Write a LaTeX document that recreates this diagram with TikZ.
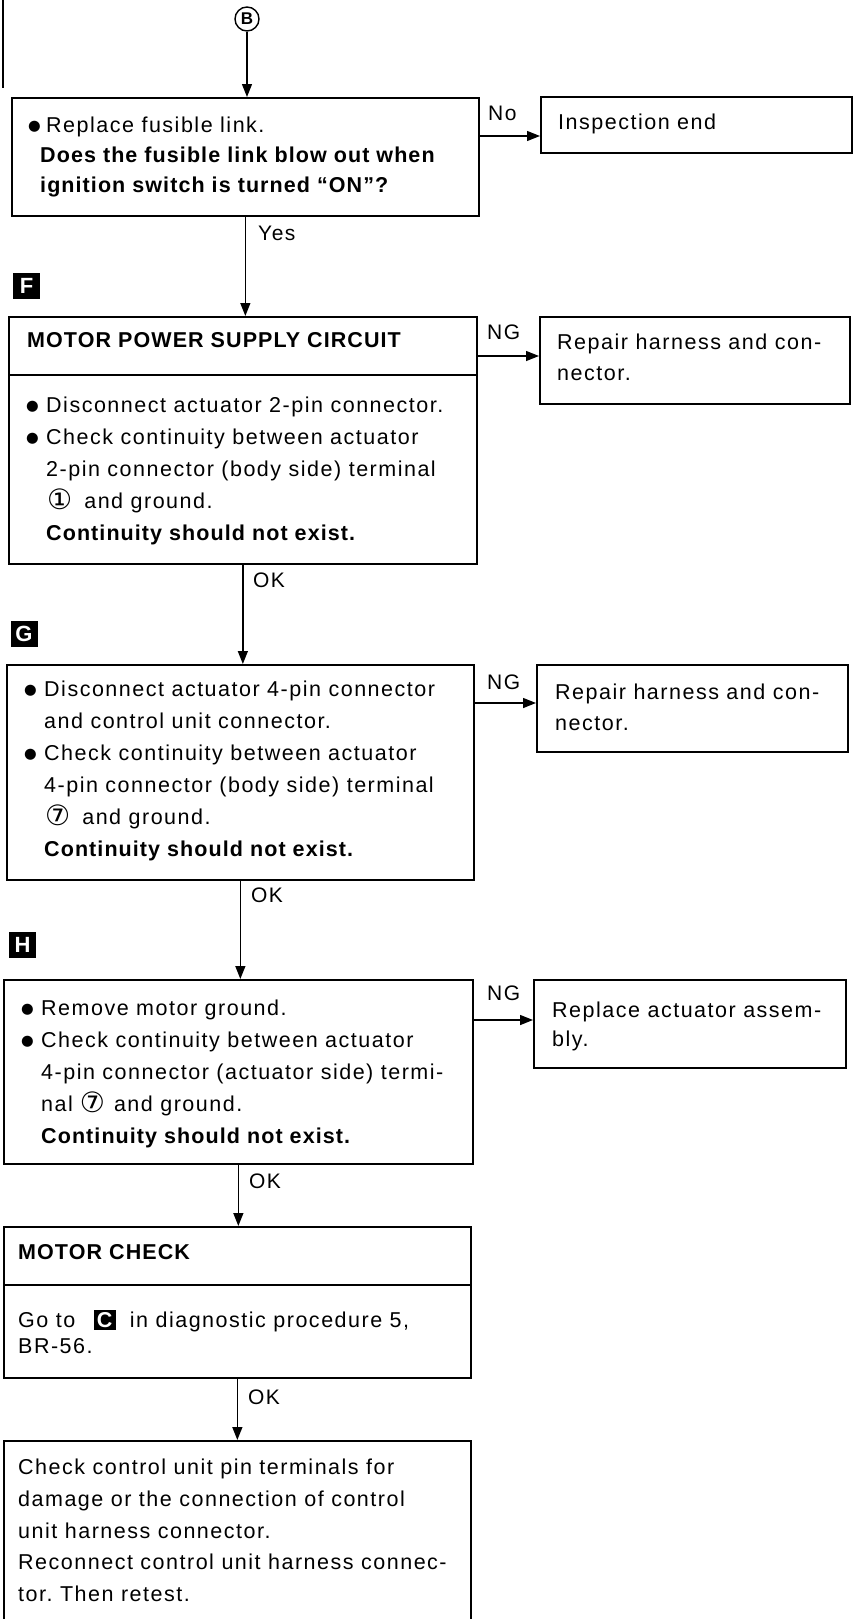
\documentclass[tikz,border=0pt]{standalone}
\usepackage{fontspec}
\setmainfont{Liberation Sans}[LetterSpace=7,BoldFeatures={LetterSpace=5}]
\newfontfamily\djv{DejaVu Sans}
\usetikzlibrary{arrows.meta}
\newcommand{\bulg}{\raisebox{1.8pt}{\djv\fontsize{14.5}{14.5}\selectfont ●}}
\newcommand{\bul}{\makebox[20pt][l]{\bulg}}
\newcommand{\bulb}{\makebox[18pt][l]{\bulg}}
\newcommand{\ind}{\hspace*{20pt}}
\newcommand{\cnum}[1]{\raisebox{-1pt}{\djv\fontsize{28}{28}\selectfont #1}}
\newcommand{\cmark}{{\setlength{\fboxsep}{2.5pt}\colorbox{black}{\textcolor{white}{\textbf{C}}}}}
\begin{document}
\frenchspacing
\begin{tikzpicture}[x=1pt,y=-1pt,
  box/.style={draw,line width=1.7pt,inner sep=0pt,anchor=north west},
  txt/.style={anchor=north west,inner sep=0pt,align=left,font=\fontsize{21.5}{32}\selectfont\frenchspacing},
  conn/.style={line width=1.4pt,-{Triangle[length=13pt,width=10pt]}},
  lbl/.style={anchor=west,inner sep=0pt,font=\fontsize{21}{21}\selectfont},
  marker/.style={fill=black,text=white,minimum width=27pt,minimum height=26pt,inner sep=0pt,font=\bfseries\fontsize{22}{22}\selectfont}]
\useasboundingbox (0,0) rectangle (854,1619);
\clip (0,0) rectangle (854,1619);
\fill[white] (0,0) rectangle (854,1619);
\draw[line width=1.5pt] (3,0) -- (3,88);

% start connector
\node[circle,draw,line width=1.4pt,minimum size=24pt,inner sep=0pt,font=\bfseries\fontsize{17}{17}\selectfont] (B) at (247,19) {B};

% boxes
\node[box,minimum width=467pt,minimum height=118pt] (q1) at (11,97) {};
\node[box,minimum width=311pt,minimum height=56pt] (ins) at (540,96) {};
\node[box,minimum width=468pt,minimum height=58pt] (Ft) at (8,316) {};
\node[box,minimum width=468pt,minimum height=189pt] (Fb) at (8,374) {};
\node[box,minimum width=310pt,minimum height=87pt] (rep1) at (539,316) {};
\node[box,minimum width=467pt,minimum height=215pt] (G) at (6,664) {};
\node[box,minimum width=311pt,minimum height=87pt] (rep2) at (536,664) {};
\node[box,minimum width=469pt,minimum height=184pt] (H) at (3,979) {};
\node[box,minimum width=312pt,minimum height=88pt] (rep3) at (533,979) {};
\node[box,minimum width=467pt,minimum height=58pt] (MCt) at (3,1226) {};
\node[box,minimum width=467pt,minimum height=93pt] (MCb) at (3,1284) {};
\node[box,minimum width=467pt,minimum height=260pt] (last) at (3,1440) {};

% markers
\node[marker] (mF) at (26.5,286) {F};
\node[marker] (mG) at (24,634) {G};
\node[marker] (mH) at (22.5,944.5) {H};

% texts
\node[txt,font=\fontsize{21.5}{30}\selectfont] (q1t) at (28,117) {\bulb Replace fusible link.\\
\hspace*{12pt}\textbf{Does the fusible link blow out when}\\
\hspace*{12pt}\textbf{ignition switch is turned “ON”?}};
\node[txt] (inst) at (558,114) {Inspection end};
\node[txt] (Ftt) at (27,332) {\textbf{MOTOR POWER SUPPLY CIRCUIT}};
\node[txt] (Fbt) at (26,397) {\bul Disconnect actuator 2-pin connector.\\
\bul Check continuity between actuator\\
\ind 2-pin connector (body side) terminal\\
\ind\hspace*{1pt}\cnum{①}\hspace{12pt}and ground.\\
\ind\textbf{Continuity should not exist.}};
\node[txt,font=\fontsize{21.5}{31}\selectfont] (rep1t) at (557,334) {Repair harness and con-\\nector.};
\node[txt] (Gt) at (24,681) {\bul Disconnect actuator 4-pin connector\\
\ind and control unit connector.\\
\bul Check continuity between actuator\\
\ind 4-pin connector (body side) terminal\\
\ind\hspace*{1pt}\cnum{⑦}\hspace{12pt}and ground.\\
\ind\textbf{Continuity should not exist.}};
\node[txt,font=\fontsize{21.5}{31}\selectfont] (rep2t) at (555,684) {Repair harness and con-\\nector.};
\node[txt] (Ht) at (21,1000) {\bul Remove motor ground.\\
\bul Check continuity between actuator\\
\ind 4-pin connector (actuator side) termi-\\
\ind nal\hspace{7pt}\cnum{⑦}\hspace{9pt}and ground.\\
\ind\textbf{Continuity should not exist.}};
\node[txt,font=\fontsize{21.5}{29}\selectfont] (rep3t) at (552,1002) {Replace actuator assem-\\bly.};
\node[txt] (MCtt) at (18,1244) {\textbf{MOTOR CHECK}};
\node[txt,font=\fontsize{21.5}{26}\selectfont] (MCbt) at (18,1310) {Go to\hspace{19pt}\cmark\hspace{14pt}in diagnostic procedure 5,\\BR-56.};
\node[txt,font=\fontsize{21.5}{31.6}\selectfont] (lastt) at (18,1459) {Check control unit pin terminals for\\
damage or the connection of control\\
unit harness connector.\\
Reconnect control unit harness connec-\\
tor. Then retest.};

% connectors
\coordinate (y1) at (0,136);
\coordinate (y2) at (0,356);
\coordinate (y3) at (0,703);
\coordinate (y4) at (0,1020);
\draw[conn] (B) -- (B |- q1.north);
\draw[conn] (q1.south) -- (q1.south |- Ft.north);
\draw[conn] (Fb.south) -- (Fb.south |- G.north);
\draw[conn] (G.south) -- (G.south |- H.north);
\draw[conn] (H.south) -- (H.south |- MCt.north);
\draw[conn] (MCb.south) -- (MCb.south |- last.north);
\draw[conn] (q1.east |- y1) -- (ins.west |- y1);
\draw[conn] (Ft.east |- y2) -- (rep1.west |- y2);
\draw[conn] (G.east |- y3) -- (rep2.west |- y3);
\draw[conn] (H.east |- y4) -- (rep3.west |- y4);

% labels
\node[lbl] (lNo) at (488,113) {No};
\node[lbl] (lNG1) at (487,332) {NG};
\node[lbl] (lNG2) at (487,682) {NG};
\node[lbl] (lNG3) at (487,993) {NG};
\node[lbl] (lYes) at (258,233) {Yes};
\node[lbl] (lOK1) at (253,580) {OK};
\node[lbl] (lOK2) at (251,895) {OK};
\node[lbl] (lOK3) at (249,1181) {OK};
\node[lbl] (lOK4) at (248,1397) {OK};
\end{tikzpicture}
\end{document}
